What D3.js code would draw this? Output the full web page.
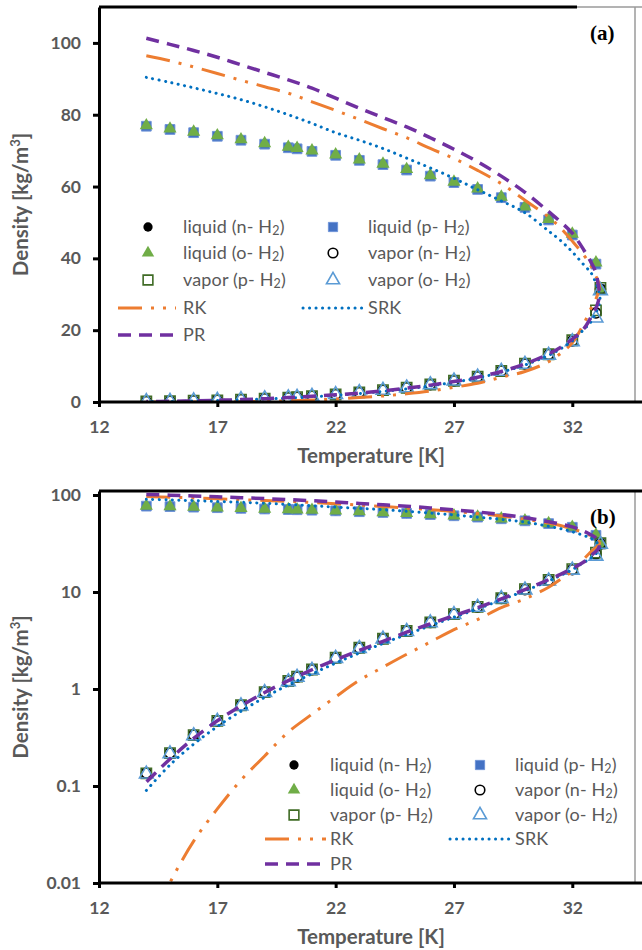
<!DOCTYPE html>
<html>
<head>
<meta charset="utf-8">
<script src="https://cdn.jsdelivr.net/npm/d3@7"></script>
<style>
  body { margin: 0; background: #fff; }
  svg text { font-family: Lato, "Open Sans", sans-serif; }
</style>
</head>
<body>
<div id="chart"></div>
<script>
// experimental saturation densities (same temperatures for every series)
const expT = [14, 15, 16, 17, 18, 19, 20, 20.37, 21, 22, 23, 24, 25, 26, 27, 28, 29, 30, 31, 32, 33, 33.19];
const liquidN = [76.9, 76.0, 75.1, 74.1, 73.0, 71.9, 70.9, 70.6, 69.9, 68.8, 67.4, 66.2, 64.7, 63.0, 61.2, 59.3, 57.0, 54.3, 50.8, 46.6, 38.6, 31.4];
const liquidP = [76.8, 75.9, 75.0, 74.0, 72.9, 71.8, 70.8, 70.5, 69.8, 68.7, 67.3, 66.1, 64.6, 62.9, 61.1, 59.2, 56.9, 54.2, 50.7, 46.5, 38.4, 31.3];
const liquidO = [77.0, 76.1, 75.2, 74.2, 73.1, 72.0, 71.0, 70.7, 70.0, 68.9, 67.5, 66.3, 64.8, 63.1, 61.3, 59.4, 57.1, 54.4, 50.9, 46.8, 38.8, 31.5];
const vaporN = [0.136, 0.219, 0.336, 0.47, 0.68, 0.93, 1.2, 1.33, 1.58, 2.09, 2.65, 3.3, 3.95, 4.85, 5.9, 7.0, 8.6, 10.6, 13.2, 17.0, 24.8, 31.4];
const vaporP = [0.135, 0.218, 0.335, 0.47, 0.68, 0.93, 1.21, 1.34, 1.59, 2.1, 2.66, 3.3, 3.96, 4.87, 5.92, 7.03, 8.63, 10.7, 13.3, 17.2, 25.5, 31.8];
const vaporO = [0.133, 0.215, 0.33, 0.465, 0.67, 0.92, 1.19, 1.32, 1.56, 2.07, 2.62, 3.27, 3.92, 4.82, 5.86, 6.96, 8.55, 10.5, 13.0, 16.8, 23.4, 31.0];

// EOS curves: liquid branch up to the critical point, then back down the vapor branch
const rkT = [14, 15, 16, 17, 18, 19, 20, 21, 22, 23, 24, 25, 26, 27, 28, 29, 30, 31, 31.5, 32, 32.5, 32.8, 33.0, 33.1, 33.15,
  33.05, 32.9, 32.75, 32.5, 32, 31.5, 31, 30, 29, 28, 27, 26, 25, 24, 23, 22, 21, 20, 19, 18, 17, 16, 15, 14.5, 14];
const rkRho = [96.4, 95.0, 93.3, 91.5, 89.6, 87.8, 86.0, 83.6, 81.2, 78.7, 76.1, 73.6, 70.6, 67.8, 64.5, 60.8, 56.2, 51.5, 48.5, 44.8, 40.8, 37.8, 35.0, 33.5, 32.0,
  29.5, 27.5, 25.5, 22.0, 16.5, 13.5, 11.2, 8.5, 6.9, 5.2, 4.1, 3.05, 2.28, 1.68, 1.23, 0.83, 0.55, 0.36, 0.204, 0.115, 0.058, 0.027, 0.0101, 0.0055, 0.003];

const srkT = [14, 15, 16, 17, 18, 19, 20, 21, 22, 23, 24, 25, 26, 27, 28, 29, 30, 31, 31.5, 32, 32.5, 32.8, 33.0, 33.1, 33.17,
  33.05, 32.75, 32.5, 32, 31.5, 31, 30, 29, 28, 27, 26, 25, 24, 23, 22, 21, 20, 19, 18, 17, 16, 15, 14];
const srkRho = [90.4, 89.0, 87.5, 85.9, 84.2, 82.2, 80.0, 77.6, 75.0, 72.9, 70.6, 67.9, 65.2, 62.3, 59.1, 56.0, 52.7, 47.6, 45.0, 41.8, 38.1, 35.9, 33.0, 31.2, 28.4,
  25.6, 22.0, 20.3, 17.0, 14.8, 13.0, 10.3, 8.3, 6.7, 5.5, 4.5, 3.65, 2.95, 2.35, 1.85, 1.43, 1.1, 0.82, 0.59, 0.41, 0.27, 0.165, 0.09];

const prT = [14, 15, 16, 17, 18, 19, 20, 21, 22, 23, 24, 25, 26, 27, 28, 29, 30, 31, 31.5, 32, 32.5, 32.8, 33.0, 33.1, 33.15,
  33.1, 33.0, 32.9, 32.5, 32, 31.5, 31, 30, 29, 28, 27, 26, 25, 24, 23, 22, 21, 20, 19, 18, 17, 16, 15, 14];
const prRho = [101.3, 99.6, 97.9, 96.0, 93.9, 91.8, 89.7, 87.4, 84.6, 81.8, 79.2, 76.6, 73.6, 70.4, 66.9, 62.9, 58.4, 53.0, 50.2, 47.0, 42.2, 38.8, 36.0, 32.5, 30.5,
  28.0, 26.2, 25.0, 20.5, 17.5, 15.2, 13.4, 10.6, 8.5, 6.9, 5.7, 4.7, 3.85, 3.1, 2.5, 2.0, 1.58, 1.22, 0.92, 0.67, 0.47, 0.31, 0.19, 0.11];

const xTicks = [12, 17, 22, 27, 32];
const linTicks = [0, 20, 40, 60, 80, 100];
const logTicks = [0.01, 0.1, 1, 10, 100];

const gray = '#595959';

// marker series, in legend order (row by row, two columns)
const markerSeries = [
  { name: 'liquid (n-', values: liquidN, shape: d3.symbolCircle, size: 75, fill: '#000', stroke: 'none' },
  { name: 'liquid (p-', values: liquidP, shape: d3.symbolSquare, size: 95, fill: '#4472C4', stroke: '#6f94d8' },
  { name: 'liquid (o-', values: liquidO, shape: d3.symbolTriangle, size: 75, fill: '#70AD47', stroke: 'none' },
  { name: 'vapor (n-', values: vaporN, shape: d3.symbolCircle, size: 80, fill: 'none', stroke: '#000' },
  { name: 'vapor (p-', values: vaporP, shape: d3.symbolSquare, size: 105, fill: 'none', stroke: '#3f6b25' },
  { name: 'vapor (o-', values: vaporO, shape: d3.symbolTriangle, size: 82, fill: 'none', stroke: '#5B9BD5' }
];
const lineSeries = [
  { name: 'RK', T: rkT, rho: rkRho, color: '#ED7D31', width: 3, dash: '24,9,3,9,3,9', cap: 'butt' },
  { name: 'SRK', T: srkT, rho: srkRho, color: '#0070C0', width: 3, dash: '0.1,6.4', cap: 'round' },
  { name: 'PR', T: prT, rho: prRho, color: '#7030A0', width: 3.5, dash: '13,8', cap: 'butt' }
];

const svg = d3.select('#chart')
  .append('svg')
    .attr('width', 642)
    .attr('height', 950);

const x = d3.scaleLinear().domain([12, 34.65]).range([99, 635]);

function drawPanel(p) {
  const g = svg.append('g');
  const y = p.y;
  const top = y.range()[1], bottom = y.range()[0];

  const clipId = 'clip-' + p.label.replace(/\W/g, '');
  g.append('clipPath').attr('id', clipId)
    .append('rect')
      .attr('x', x.range()[0]).attr('y', top)
      .attr('width', x.range()[1] - x.range()[0]).attr('height', bottom - top);

  // frame: thin gray right side, thick black top
  g.append('line')
    .attr('x1', x.range()[1]).attr('x2', x.range()[1])
    .attr('y1', top).attr('y2', bottom)
    .attr('stroke', '#9a9a9a').attr('stroke-width', 1.5);
  g.append('line')
    .attr('x1', x.range()[0]).attr('x2', p.topBlackEnd)
    .attr('y1', top).attr('y2', top)
    .attr('stroke', '#000').attr('stroke-width', 3);
  g.append('line')
    .attr('x1', p.topBlackEnd).attr('x2', 642)
    .attr('y1', top).attr('y2', top)
    .attr('stroke', '#9a9a9a').attr('stroke-width', 1.5);

  const plot = g.append('g').attr('clip-path', `url(#${clipId})`);

  // markers
  markerSeries.forEach(s => {
    plot.selectAll(null)
      .data(s.values)
      .join('path')
        .attr('transform', (d, i) => `translate(${x(expT[i])},${y(d)})`)
        .attr('d', d3.symbol(s.shape, s.size))
        .attr('fill', s.fill)
        .attr('stroke', s.stroke)
        .attr('stroke-width', s.fill === 'none' ? 1.6 : 1);
  });

  // EOS lines
  const line = d3.line()
    .x(d => x(d[0]))
    .y(d => y(d[1]))
    .curve(d3.curveCatmullRom.alpha(0.5));
  lineSeries.forEach(s => {
    plot.append('path')
      .datum(d3.zip(s.T, s.rho))
      .attr('d', line)
      .attr('fill', 'none')
      .attr('stroke', s.color)
      .attr('stroke-width', s.width)
      .attr('stroke-dasharray', s.dash)
      .attr('stroke-linecap', s.cap);
  });

  // axes
  const yAxis = g.append('g')
    .attr('transform', `translate(${x.range()[0]},0)`)
    .call(d3.axisLeft(y).tickValues(p.yTicks).tickFormat(d3.format('~g')).tickSize(6).tickSizeOuter(0).tickPadding(12));
  const xAxis = g.append('g')
    .attr('transform', `translate(0,${bottom})`)
    .call(d3.axisBottom(x).tickValues(xTicks).tickSize(5).tickSizeOuter(0).tickPadding(14));
  [yAxis, xAxis].forEach(a => {
    a.select('.domain').attr('stroke', '#000').attr('stroke-width', 3);
    a.selectAll('.tick line').attr('stroke', '#000').attr('stroke-width', 3);
    a.selectAll('.tick text')
      .attr('fill', gray)
      .attr('font-size', 17.5)
      .attr('font-weight', 'bold')
      .style('font-family', 'Lato, sans-serif');
  });
  xAxis.select('.domain').attr('d', `M${x.range()[0]},0H642`);

  g.append('text')
    .attr('x', 371).attr('y', p.xTitleY)
    .attr('text-anchor', 'middle')
    .attr('fill', gray).attr('font-size', 20.5).attr('font-weight', 'bold')
    .text('Temperature [K]');

  const yt = g.append('text')
    .attr('transform', `translate(28,${(top + bottom) / 2}) rotate(-90)`)
    .attr('text-anchor', 'middle')
    .attr('fill', gray).attr('font-size', 20.5).attr('font-weight', 'bold');
  yt.append('tspan').text('Density [kg/m');
  yt.append('tspan').attr('font-size', 13).attr('dy', -8).text('3');
  yt.append('tspan').attr('dy', 8).text(']');

  g.append('text')
    .attr('x', p.labelX).attr('y', p.labelY)
    .attr('fill', '#000')
    .style('font-family', '"Liberation Serif", "DejaVu Serif", serif')
    .attr('font-size', 21).attr('font-weight', 'bold')
    .text(p.label);

  // legend
  const L = p.legend;
  const addLabel = (tx, ty, name, sub) => {
    const t = g.append('text')
      .attr('x', tx).attr('y', ty + 6)
      .attr('fill', gray).attr('font-size', 18)
      .attr('letter-spacing', 0.15);
    t.append('tspan').text(name);
    if (sub) {
      t.append('tspan').text(' H');
      t.append('tspan').attr('font-size', 12.5).attr('dy', 2).text('2');
      t.append('tspan').attr('dy', -2).text(')');
    }
  };
  markerSeries.forEach((s, i) => {
    const col = i % 2, row = Math.floor(i / 2);
    const mx = col ? L.x2 : L.x1;
    const ry = L.rows[row];
    g.append('path')
      .attr('transform', `translate(${mx},${ry})`)
      .attr('d', d3.symbol(s.shape, s.size * 0.9))
      .attr('fill', s.fill)
      .attr('stroke', s.stroke)
      .attr('stroke-width', s.fill === 'none' ? 1.6 : 1);
    addLabel(col ? L.tx2 : L.tx1, ry, s.name, true);
  });
  lineSeries.forEach((s, i) => {
    const col = i % 2, row = 3 + Math.floor(i / 2);
    const seg = col ? L.line2 : L.line1;
    const ry = L.rows[row];
    g.append('line')
      .attr('x1', seg[0]).attr('x2', seg[1])
      .attr('y1', ry).attr('y2', ry)
      .attr('stroke', s.color)
      .attr('stroke-width', s.width)
      .attr('stroke-dasharray', s.dash)
      .attr('stroke-linecap', s.cap);
    addLabel(col ? L.tx2 : L.tx1, ry, s.name, false);
  });
}

drawPanel({
  y: d3.scaleLinear().domain([0, 110]).range([402, 7]),
  yTicks: linTicks,
  topBlackEnd: 577,
  xTitleY: 463,
  label: '(a)', labelX: 590, labelY: 40,
  legend: { x1: 148, tx1: 183, x2: 333, tx2: 368, rows: [227, 253, 280, 308, 335], line1: [118, 176], line2: [303, 364] }
});

drawPanel({
  y: d3.scaleLog().domain([0.01, 110]).range([883, 491]),
  yTicks: logTicks,
  topBlackEnd: 642,
  xTitleY: 944,
  label: '(b)', labelX: 590, labelY: 524,
  legend: { x1: 294, tx1: 330, x2: 480, tx2: 515, rows: [765, 790, 815, 839, 864], line1: [265, 326], line2: [450, 511] }
});
</script>
</body>
</html>
